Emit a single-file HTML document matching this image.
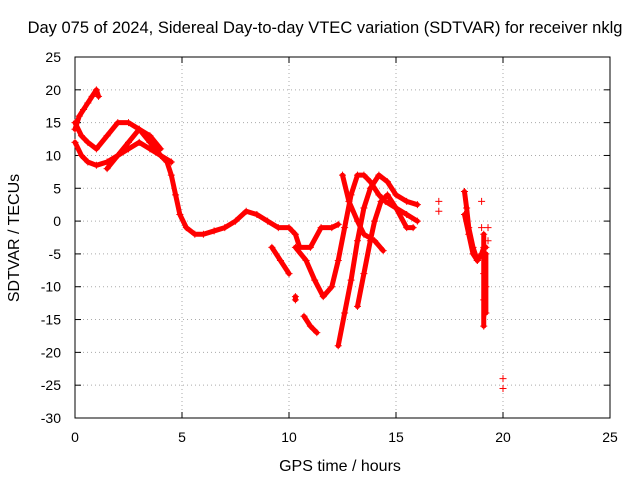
<!DOCTYPE html>
<html><head><meta charset="utf-8"><style>
body{margin:0;background:#fff}
svg{display:block;font-family:"Liberation Sans",sans-serif}
</style></head><body>
<svg id="chart" width="640" height="480">
<rect width="640" height="480" fill="#fff"/>
<text x="325" y="33" text-anchor="middle" font-size="16.5">Day 075 of 2024, Sidereal Day-to-day VTEC variation (SDTVAR) for receiver nklg</text>
<g id="grid"></g><g id="axes"></g><g id="series"></g>
<text x="340" y="471" text-anchor="middle" font-size="16">GPS time / hours</text>
<text transform="translate(19,238) rotate(-90)" text-anchor="middle" font-size="16">SDTVAR / TECUs</text>
</svg>
<script>
const xTicks=[0,5,10,15,20,25];
const yTicks=[25,20,15,10,5,0,-5,-10,-15,-20,-25,-30];
const trackA=[[0,14],[0.2,16],[0.4,17],[0.6,18],[0.8,19],[1.0,20],[1.1,19]];
const trackB=[[0,12],[0.3,10],[0.6,9],[1,8.5],[1.5,9],[2,10],[2.5,11],[3,12],[3.5,11],[4,10],[4.3,9],[4.5,7],[4.7,4],[4.9,1],[5.2,-1],[5.6,-2],[6,-2],[6.5,-1.5],[7,-1],[7.5,0],[8,1.5],[8.5,1],[9,0],[9.5,-1],[10,-1],[10.3,-2],[10.5,-4],[11,-4],[11.5,-1],[12,-1],[12.3,-0.5]];
const trackC=[[0,15],[0.3,13],[0.6,12],[1,11],[1.5,13],[2,15],[2.5,15],[3,14],[3.5,12],[4,10],[4.5,9]];
const trackD=[[1.5,8],[2,10],[2.5,12],[3,14],[3.5,13],[4,11]];
const trackE=[[9.2,-4],[9.6,-6],[10,-8]];
const trackE2=[[10.3,-11.5],[10.3,-12]];
const trackE3=[[10.7,-14.5],[11,-16],[11.3,-17]];
const trackF=[[10.3,-4],[10.8,-6],[11.2,-9],[11.6,-11.5],[12,-10],[12.3,-6],[12.6,-1],[12.9,4],[13.2,7],[13.5,7],[13.8,6],[14.2,4],[14.5,3],[15,2],[15.5,1],[16,0]];
const trackG=[[12.3,-19],[12.6,-14],[12.9,-9],[13.2,-3],[13.5,2],[13.8,5],[14.2,7],[14.6,6],[15,4],[15.5,3],[16,2.5]];
const trackH=[[13.2,-13],[13.5,-8],[13.8,-3],[14,0],[14.3,3],[14.6,4],[15,2],[15.5,-1],[15.8,-1]];
const trackI=[[12.5,7],[12.8,3],[13.2,0],[13.5,-2],[14,-3],[14.4,-4.5]];
const trackJ=[[18.2,4.5],[18.3,2],[18.4,-1],[18.6,-4],[18.8,-6],[19,-5],[19.1,-4],[19.2,-4]];
const trackK=[[18.2,1],[18.4,-2],[18.6,-5],[18.8,-6]];
const trackL=[[19.1,-2],[19.1,-8],[19.1,-12],[19.1,-16]];
const trackM=[[19.2,-5],[19.2,-10],[19.2,-14]];
const isolated=[[17,3],[17,1.5],[19,3],[19,-1],[19.3,-1],[19.3,-3],[20,-24],[20,-25.5]];
const tracks=[trackA,trackB,trackC,trackD,trackE,trackE2,trackE3,trackF,trackG,trackH,trackI,trackJ,trackK,trackL,trackM];
const X0=75,X1=610,Y0=57,Y1=418;
const xs=v=>X0+(v-0)/25*(X1-X0);
const ys=v=>Y1-(v+30)/55*(Y1-Y0);
const NS="http://www.w3.org/2000/svg";
function mk(t,a,p){const e=document.createElementNS(NS,t);for(const k in a)e.setAttribute(k,a[k]);p.appendChild(e);return e;}
const grid=document.getElementById('grid'),axes=document.getElementById('axes'),ser=document.getElementById('series');
xTicks.forEach(v=>{const x=xs(v);
 if(v>0&&v<25){const g=mk('line',{x1:x,x2:x,y1:Y0,y2:Y1,stroke:'#aaa','stroke-dasharray':'1,3'},grid);
 }
 mk('line',{x1:x,x2:x,y1:Y1,y2:Y1-6,stroke:'#000'},axes);mk('line',{x1:x,x2:x,y1:Y0,y2:Y0+6,stroke:'#000'},axes);
 const t=mk('text',{x:x,y:Y1+24,'text-anchor':'middle','font-size':14},axes);t.textContent=v;
 });
yTicks.forEach(v=>{const y=ys(v);
 if(v>-30&&v<25){const g=mk('line',{x1:X0,x2:X1,y1:y,y2:y,stroke:'#aaa','stroke-dasharray':'1,3'},grid);
 }
 mk('line',{x1:X0,x2:X0+6,y1:y,y2:y,stroke:'#000'},axes);mk('line',{x1:X1,x2:X1-6,y1:y,y2:y,stroke:'#000'},axes);
 const t=mk('text',{x:X0-14,y:y+5,'text-anchor':'end','font-size':14},axes);t.textContent=v;
 });
const fr=mk('rect',{x:X0,y:Y0,width:X1-X0,height:Y1-Y0,fill:'none',stroke:'#000'},axes);

function plus(p,parent){const x=xs(p[0]),y=ys(p[1]);
 const m=mk('path',{d:`M${x-3.5},${y}h7M${x},${y-3.5}v7`,stroke:'#f00','stroke-width':1},parent);
 }
tracks.forEach(tr=>{
 const g=mk('g',{},ser);
 const pl=mk('polyline',{points:tr.map(p=>xs(p[0])+','+ys(p[1])).join(' '),fill:'none',stroke:'#f00','stroke-width':5,'stroke-linejoin':'round','stroke-linecap':'round'},g);
 
 tr.forEach(p=>plus(p,g));});
isolated.forEach(p=>plus(p,ser));
</script>
</body></html>
